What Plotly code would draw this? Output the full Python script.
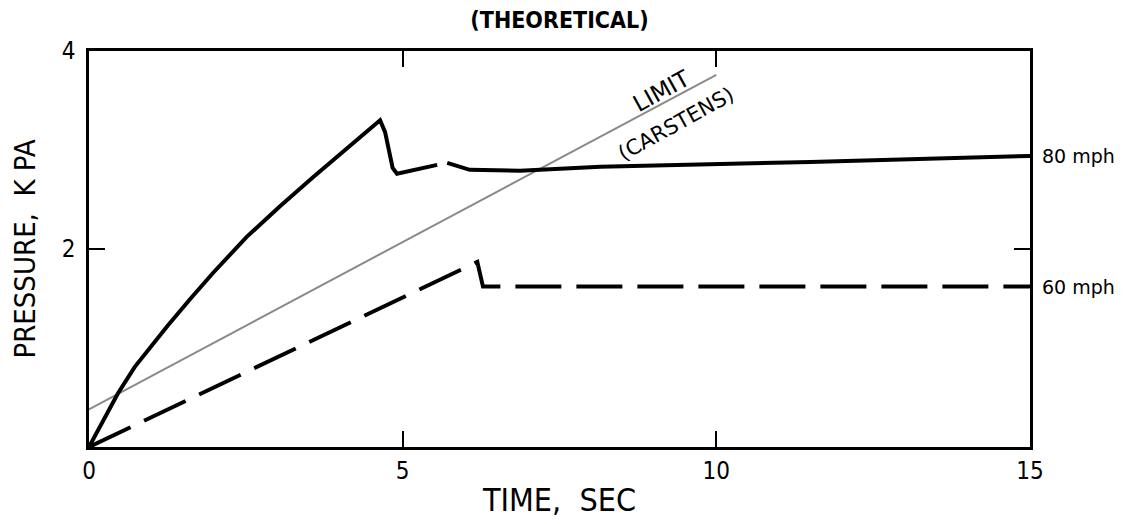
import plotly.graph_objects as go

# ---- data ----
time_80 = [0, 0.26, 0.46, 0.73, 1.00, 1.26, 1.62, 1.98, 2.51, 3.04, 3.58, 4.11,
           4.64, 4.72, 4.78, 4.84, 4.91, 5.05, 5.55, 5.63, 5.71, 6.07, 6.87, 8.15, 11.5, 15]
pressure_80 = [0, 0.31, 0.54, 0.81, 1.03, 1.23, 1.50, 1.76, 2.12, 2.43, 2.73, 3.02,
               3.30, 3.18, 3.00, 2.82, 2.76, 2.78, 2.85, None, 2.87, 2.80, 2.79, 2.83, 2.88, 2.94]

time_60 = [0, 6.19, 6.28, 15]
pressure_60 = [0, 1.87, 1.62, 1.62]

time_limit = [0, 10]
pressure_limit = [0.38, 3.76]

x_tickvals = [0, 5, 10, 15]
x_ticktext = ["0", "5", "10", "15"]
y_tickvals = [2, 4]
y_ticktext = ["2", "4"]

series_labels = ["80 mph", "60 mph"]

FONT = "DejaVu Sans Condensed, DejaVu Sans, sans-serif"
FONT_R = "DejaVu Sans, sans-serif"

fig = go.Figure()

fig.add_trace(go.Scatter(
    x=time_limit, y=pressure_limit, mode="lines",
    line=dict(color="#8a8a8a", width=2), showlegend=False, hoverinfo="skip"))

fig.add_trace(go.Scatter(
    x=time_60, y=pressure_60, mode="lines",
    line=dict(color="black", width=4, dash="46px,15px"),
    showlegend=False, name=series_labels[1]))

fig.add_trace(go.Scatter(
    x=time_80, y=pressure_80, mode="lines",
    line=dict(color="black", width=4, shape="linear"),
    connectgaps=False, showlegend=False, name=series_labels[0]))

# right-hand series labels
fig.add_annotation(x=15, y=pressure_80[-1], xref="x", yref="y", text=series_labels[0],
                   showarrow=False, xanchor="left", xshift=10,
                   font=dict(family=FONT_R, size=19, color="black"))
fig.add_annotation(x=15, y=pressure_60[-1], xref="x", yref="y", text=series_labels[1],
                   showarrow=False, xanchor="left", xshift=10,
                   font=dict(family=FONT_R, size=19, color="black"))

# limit line labels
fig.add_annotation(x=9.12, y=3.60, xref="x", yref="y", text="LIMIT",
                   showarrow=False, textangle=-29,
                   font=dict(family=FONT_R, size=23, color="black"))
fig.add_annotation(x=9.36, y=3.26, xref="x", yref="y", text="(CARSTENS)",
                   showarrow=False, textangle=-29,
                   font=dict(family=FONT_R, size=21, color="black"))

fig.update_layout(
    width=1147, height=524,
    margin=dict(l=89, r=117, t=51, b=77),
    paper_bgcolor="white", plot_bgcolor="white",
    font=dict(family=FONT, color="black"),
    title=dict(text="<b>(THEORETICAL)</b>", x=(89 + 1030) / 2 / 1147, xanchor="center",
               y=1 - 20 / 524, yanchor="middle",
               font=dict(family=FONT, size=23, color="black")),
    showlegend=False,
)

fig.update_xaxes(
    range=[0, 15], tickvals=x_tickvals, ticktext=x_ticktext,
    showline=True, linecolor="black", linewidth=2.5, mirror="allticks",
    ticks="inside", ticklen=16, tickwidth=2, tickcolor="black",
    showgrid=False, zeroline=False,
    tickfont=dict(family=FONT, size=24, color="black"),
    title=dict(text="TIME,  SEC", standoff=6,
               font=dict(family=FONT, size=32, color="black")),
)
fig.update_yaxes(
    range=[0, 4], tickvals=y_tickvals, ticktext=y_ticktext,
    showline=True, linecolor="black", linewidth=2.5, mirror="allticks",
    ticks="inside", ticklen=16, tickwidth=2, tickcolor="black",
    showgrid=False, zeroline=False, ticklabelstandoff=6,
    tickfont=dict(family=FONT, size=24, color="black"),
    title=dict(text="PRESSURE,  K PA", standoff=18,
               font=dict(family=FONT, size=29, color="black")),
)

fig.write_html("out.html")
